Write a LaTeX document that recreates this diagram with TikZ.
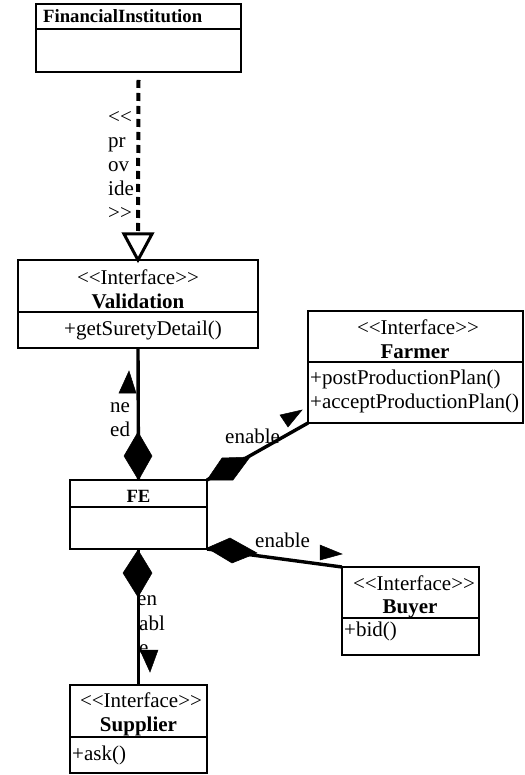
\documentclass[tikz,border=0pt]{standalone}
\usepackage{fontspec}
\setmainfont{Liberation Serif}
\newcommand{\ltlt}{<\kern0pt<}
\newcommand{\gtgt}{>\kern0pt>}
\begin{document}
\begin{tikzpicture}[x=1pt,y=-1pt,
  umlbox/.style={draw, line width=1.6pt, rectangle, inner sep=0pt, outer sep=0pt},
  divider/.style={line width=1.6pt},
  conn/.style={line width=3.4pt},
  dashconn/.style={line width=4pt, dash pattern=on 8pt off 5pt},
  solidtip/.style={fill=black, draw=black, line width=0.5pt, line join=miter},
  opentip/.style={draw=black, fill=white, line width=3pt, line join=miter},
  txt/.style={inner sep=0pt, font=\fontsize{21}{25}\selectfont},
  btxt/.style={inner sep=0pt, font=\fontsize{21}{25}\selectfont\bfseries},
  stxt/.style={inner sep=0pt, font=\fontsize{18.7}{22}\selectfont\bfseries}]
\useasboundingbox (0,0) rectangle (524,775);

% ---- boxes
\node[umlbox, minimum width=205pt, minimum height=68pt] (fi) at (138.5,38) {};
\node[umlbox, minimum width=240pt, minimum height=88pt] (val) at (138,304) {};
\node[umlbox, minimum width=215pt, minimum height=112pt] (farmer) at (415.5,367) {};
\node[umlbox, minimum width=137pt, minimum height=69pt] (fe) at (138.5,514.5) {};
\node[umlbox, minimum width=137pt, minimum height=88pt] (buyer) at (410.5,611) {};
\node[umlbox, minimum width=137pt, minimum height=88pt] (sup) at (138.5,729) {};

% ---- dividers
\draw[divider] (fi.west |- 0,29) -- (fi.east |- 0,29);
\draw[divider] (val.west |- 0,312) -- (val.east |- 0,312);
\draw[divider] (farmer.west |- 0,362) -- (farmer.east |- 0,362);
\draw[divider] (fe.west |- 0,507) -- (fe.east |- 0,507);
\draw[divider] (buyer.west |- 0,618) -- (buyer.east |- 0,618);
\draw[divider] (sup.west |- 0,737) -- (sup.east |- 0,737);

% ---- box texts
\node[stxt, anchor=base west] (fiT) at (43,23) {FinancialInstitution};

\node[txt, anchor=base] (valS) at (138,284) {\ltlt Interface\gtgt};
\node[btxt, anchor=base] (valN) at (138,308) {Validation};
\node[txt, anchor=base] (valM) at (143,335) {+getSuretyDetail()};

\node[txt, anchor=base] (farS) at (418,334) {\ltlt Interface\gtgt};
\node[btxt, anchor=base] (farN) at (415,358) {Farmer};
\node[txt, anchor=base west] (farM1) at (310,384) {+postProductionPlan()};
\node[txt, anchor=base west] (farM2) at (310,408) {+acceptProductionPlan()};

\node[stxt, anchor=base] (feT) at (138.5,502) {FE};

\node[txt, anchor=base] (buyS) at (414,590) {\ltlt Interface\gtgt};
\node[btxt, anchor=base] (buyN) at (410,613) {Buyer};
\node[txt, anchor=base west] (buyM) at (344,636) {+bid()};

\node[txt, anchor=base] (supS) at (141,707) {\ltlt Interface\gtgt};
\node[btxt, anchor=base] (supN) at (138.5,731) {Supplier};
\node[txt, anchor=base west] (supM) at (72,760) {+ask()};

% ---- connector labels
\node[txt, anchor=base west] (p1) at (108,124) {\ltlt};
\node[txt, anchor=base west] (p2) at (108,148) {pr};
\node[txt, anchor=base west] (p3) at (108,172) {ov};
\node[txt, anchor=base west] (p4) at (108,196) {ide};
\node[txt, anchor=base west] (p5) at (108,220) {\gtgt};

\node[txt, anchor=base west] (n1) at (110,412) {ne};
\node[txt, anchor=base west] (n2) at (110,436) {ed};

\node[txt, anchor=base west] (e1) at (225,443) {enable};
\node[txt, anchor=base west] (e2) at (255,547) {enable};

\node[txt, anchor=base west] (s1) at (137,605) {en};
\node[txt, anchor=base west] (s2) at (139,630) {abl};
\node[txt, anchor=base west] (s3) at (139,654) {e};

% ---- connectors
\coordinate (tribase) at (138,234);
\draw[dashconn] ([yshift=-8pt]fi.south) -- (tribase);
\draw[opentip] (124,234) -- (152,234) -- (val.north) -- cycle;

\draw[conn] (val.south) -- (fe.north);
\draw[solidtip] (138,432) -- (152,456) -- (fe.north) -- (124,456) -- cycle;
\draw[solidtip] (119,393) -- (136,393) -- (129,371) -- cycle;

\draw[conn] (fe.north east) -- (farmer.south west);
\draw[solidtip] (fe.north east) -- (233,480) -- (250,457) -- (222,458) -- cycle;
\draw[solidtip] (280,415) -- (302,410) -- (288,427) -- cycle;

\draw[conn] (fe.south east) -- (buyer.north west);
\draw[solidtip] (207,548) -- (230,538) -- (257,553) -- (232,563) -- cycle;
\draw[solidtip] (320,545) -- (342,554) -- (320,560) -- cycle;

\draw[conn] (fe.south) -- (sup.north);
\draw[solidtip] (138,550) -- (152,573) -- (138,597) -- (123,573) -- cycle;
\draw[solidtip] (140,650) -- (158,650) -- (150,672) -- cycle;
\end{tikzpicture}
\end{document}
